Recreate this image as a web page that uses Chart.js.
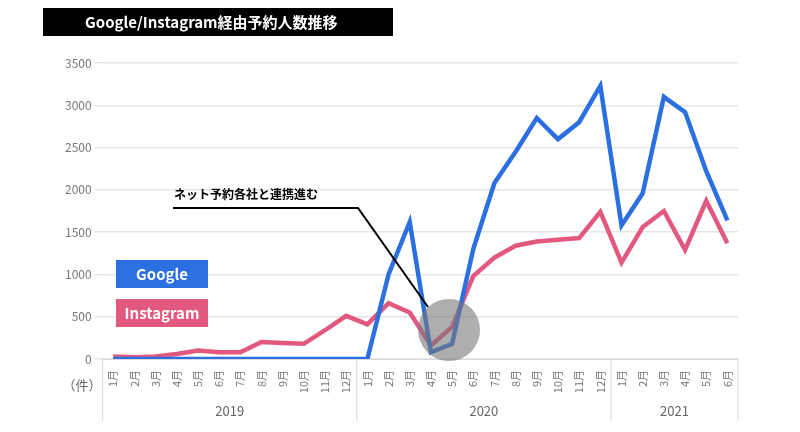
<!DOCTYPE html>
<html>
<head>
<meta charset="utf-8">
<script src="https://cdn.jsdelivr.net/npm/chart.js@4/dist/chart.umd.min.js"></script>
<style>
  body { margin: 0; background: #fff; }
  #wrap { position: relative; width: 800px; height: 432px; }
</style>
</head>
<body>
<div id="wrap"><canvas id="c" width="800" height="432"></canvas></div>
<script>
// データ
const months = ['1月','2月','3月','4月','5月','6月','7月','8月','9月','10月','11月','12月',
                '1月','2月','3月','4月','5月','6月','7月','8月','9月','10月','11月','12月',
                '1月','2月','3月','4月','5月','6月'];
const years = ['2019', '2020', '2021'];
const yearSpan = [12, 12, 6];
const google = [0,0,0,0,0,0,0,0,0,0,0,0,
                0,1000,1620,80,180,1300,2080,2450,2850,2600,2800,3230,
                1580,1960,3100,2920,2220,1640];
const instagram = [30,20,30,60,100,80,80,200,190,180,340,510,
                   410,660,550,160,380,980,1200,1340,1390,1410,1430,1740,
                   1140,1560,1750,1290,1870,1370];

const BLUE = '#2b6fe0';
const PINK = '#e3587f';
const FONT = '"Noto Sans CJK JP", "Noto Sans", sans-serif';

/* ===== 装飾 (タイトル, 年ラベル, 凡例, 注記) ===== */
const decor = {
  id: 'decor',
  afterDraw(chart) {
    const ctx = chart.ctx;
    const x = chart.scales.x, y = chart.scales.y;
    ctx.save();

    // タイトル
    ctx.fillStyle = '#000';
    ctx.fillRect(43, 8, 350, 28);
    ctx.fillStyle = '#fff';
    ctx.font = 'bold 15px ' + FONT;
    ctx.textBaseline = 'middle';
    ctx.fillText('Google/Instagram経由予約人数推移', 85, 22);

    // 年区切り
    const bottom = y.bottom;
    const step = x.getPixelForValue(1) - x.getPixelForValue(0);
    ctx.strokeStyle = '#d9d9d9';
    ctx.lineWidth = 1;
    let idx = 0;
    const edges = [x.getPixelForValue(0) - step / 2];
    yearSpan.forEach(n => { idx += n; edges.push(x.getPixelForValue(idx - 1) + step / 2); });
    edges.forEach(px => {
      ctx.beginPath(); ctx.moveTo(px, bottom); ctx.lineTo(px, bottom + 62); ctx.stroke();
    });
    ctx.fillStyle = '#666';
    ctx.font = '13px ' + FONT;
    ctx.textAlign = 'center';
    years.forEach((yr, i) => ctx.fillText(yr, (edges[i] + edges[i + 1]) / 2, bottom + 52));
    ctx.fillText('（件）', 82, bottom + 26);

    // 凡例
    ctx.font = 'bold 15px ' + FONT;
    ctx.fillStyle = BLUE; ctx.fillRect(116, 260, 92, 28);
    ctx.fillStyle = PINK; ctx.fillRect(116, 299, 92, 28);
    ctx.fillStyle = '#fff';
    ctx.fillText('Google', 162, 274);
    ctx.fillText('Instagram', 162, 313);

    // 注記
    ctx.fillStyle = 'rgba(120,120,120,0.6)';
    ctx.beginPath(); ctx.arc(449, 330, 31, 0, Math.PI * 2); ctx.fill();
    ctx.strokeStyle = '#000'; ctx.lineWidth = 2;
    ctx.beginPath(); ctx.moveTo(173, 208); ctx.lineTo(358, 208); ctx.lineTo(428, 307); ctx.stroke();
    ctx.fillStyle = '#000';
    ctx.font = 'bold 12px ' + FONT;
    ctx.textAlign = 'left';
    ctx.fillText('ネット予約各社と連携進む', 174, 194);
    ctx.restore();
  }
};

new Chart(document.getElementById('c'), {
  type: 'line',
  data: {
    labels: months,
    datasets: [
      { label: 'Google', data: google, borderColor: BLUE, borderWidth: 4.5, pointRadius: 0, tension: 0 },
      { label: 'Instagram', data: instagram, borderColor: PINK, borderWidth: 4.5, pointRadius: 0, tension: 0 }
    ]
  },
  options: {
    responsive: false,
    animation: false,
    layout: { padding: { left: 62, right: 62, top: 63, bottom: 12 } },
    plugins: { legend: { display: false }, tooltip: { enabled: false } },
    scales: {
      x: {
        offset: true,
        grid: { display: false },
        border: { color: '#d9d9d9' },
        ticks: { color: '#777', font: { size: 11, family: FONT }, minRotation: 90, maxRotation: 90, autoSkip: false },
        afterFit(s) { s.height = 61; }
      },
      y: {
        min: 0, max: 3500,
        grid: { color: '#e6e6e6', lineWidth: 1.5 },
        border: { display: false },
        ticks: { stepSize: 500, color: '#777', font: { size: 12, family: FONT }, callback: v => String(v) }
      }
    }
  },
  plugins: [decor]
});
</script>
</body>
</html>
